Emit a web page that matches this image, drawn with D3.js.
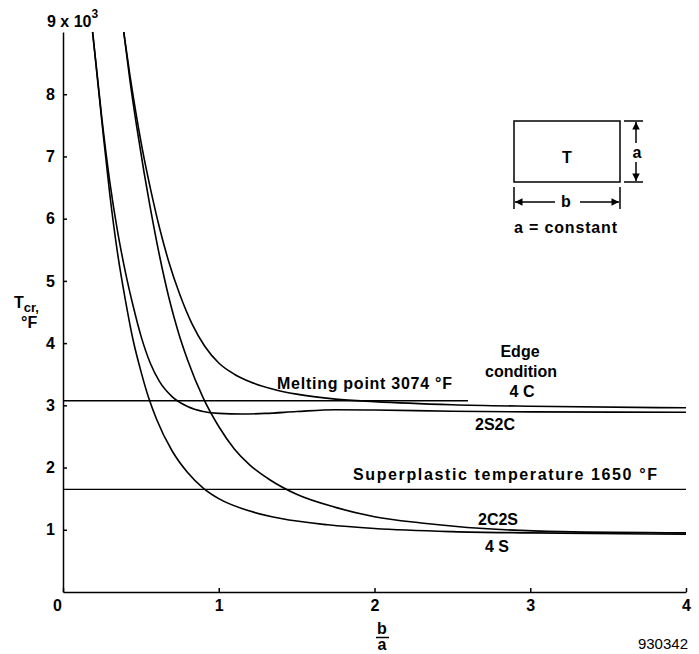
<!DOCTYPE html>
<html lang="en">
<head>
<meta charset="UTF-8">
<title>Critical temperature vs b/a</title>
<script src="https://d3js.org/d3.v7.min.js"></script>
<style>
  body { margin: 0; background: #fff; }
  svg { display: block; }
  text { font-family: 'Liberation Sans', Arial, sans-serif; font-weight: bold; fill: #000; }
  .axis path, .axis line { stroke: #000; stroke-width: 1.5; }
  .axis text { font-size: 16px; font-family: 'Liberation Sans', Arial, sans-serif; font-weight: bold; }
  .curve { fill: none; stroke: #000; stroke-width: 1.6; }
  .ref { stroke: #000; stroke-width: 1.3; }
  .inset { fill: none; stroke: #000; stroke-width: 1.5; }
</style>
</head>
<body>
<svg id="chart" width="699" height="654"></svg>
<script>
// values: b/a against T_cr (thousands of °F)
const xTicks = [0, 1, 2, 3, 4];
const yTicks = [1, 2, 3, 4, 5, 6, 7, 8];
const meltingPoint = 3.074;   // 3074 °F
const meltingEnd = 2.6;       // line stops under its label
const superplastic = 1.65;    // 1650 °F

const curve4S = [[0.19, 9.0], [0.25, 7.55], [0.30, 6.4], [0.35, 5.45], [0.40, 4.7], [0.45, 4.05],
  [0.50, 3.55], [0.55, 3.12], [0.60, 2.78], [0.70, 2.27], [0.80, 1.92], [0.90, 1.67], [1.00, 1.50],
  [1.20, 1.30], [1.40, 1.18], [1.70, 1.08], [2.00, 1.02], [2.50, 0.97], [3.00, 0.95], [4.00, 0.93]];
const curve2S2C = [[0.19, 9.0], [0.25, 7.6], [0.30, 6.6], [0.35, 5.8], [0.40, 5.15], [0.45, 4.6],
  [0.50, 4.12], [0.56, 3.68], [0.62, 3.38], [0.70, 3.14], [0.80, 2.98], [0.90, 2.9], [1.00, 2.87],
  [1.15, 2.86], [1.30, 2.87], [1.50, 2.9], [1.75, 2.93], [2.00, 2.925], [2.50, 2.905],
  [3.00, 2.895], [4.00, 2.89]];
const curve2C2S = [[0.39, 9.0], [0.43, 8.22], [0.475, 7.45], [0.52, 6.75], [0.56, 6.18], [0.62, 5.4],
  [0.68, 4.73], [0.74, 4.18], [0.80, 3.73], [0.90, 3.12], [1.00, 2.66], [1.10, 2.3], [1.20, 2.04],
  [1.33, 1.8], [1.50, 1.57], [1.75, 1.36], [2.00, 1.21], [2.30, 1.11], [2.70, 1.02], [3.20, 0.97],
  [4.00, 0.95]];
const curve4C = [[0.39, 9.0], [0.43, 8.3], [0.475, 7.6], [0.52, 6.98], [0.56, 6.5], [0.62, 5.85],
  [0.68, 5.3], [0.75, 4.78], [0.83, 4.3], [0.91, 3.95], [1.00, 3.68], [1.10, 3.5], [1.20, 3.38],
  [1.35, 3.26], [1.50, 3.18], [1.75, 3.1], [2.00, 3.06], [2.50, 3.01], [3.00, 2.985], [4.00, 2.96]];

const svg = d3.select("#chart");

const x = d3.scaleLinear().domain([0, 4]).range([63, 686]);
const y = d3.scaleLinear().domain([0, 9]).range([592, 32]);

// axes, ticks point inward
svg.append("g")
    .attr("class", "axis")
    .attr("transform", "translate(0,592)")
    .call(d3.axisBottom(x).tickValues(xTicks).tickFormat(d3.format("d"))
        .tickSizeInner(-4).tickSizeOuter(0).tickPadding(8))
    .call(g => g.selectAll(".tick text").filter(d => d === 0).attr("dx", -6));

svg.append("g")
    .attr("class", "axis")
    .attr("transform", "translate(63,0)")
    .call(d3.axisLeft(y).tickValues(yTicks).tickFormat(d3.format("d"))
        .tickSizeInner(-4).tickSizeOuter(0).tickPadding(8));

// top label of y axis
const topLabel = svg.append("text").attr("x", 47).attr("y", 27).style("font-size", "16px");
topLabel.append("tspan").text("9 x 10");
topLabel.append("tspan").attr("dy", -9).style("font-size", "12px").text("3");

// y axis title
const yTitle = svg.append("text").attr("x", 14).attr("y", 308).style("font-size", "16px");
yTitle.append("tspan").text("T");
yTitle.append("tspan").attr("dy", 4).style("font-size", "13px").text("cr,");
svg.append("text").attr("x", 21).attr("y", 328).style("font-size", "16px").text("°F");

// x axis title b/a
svg.append("text").attr("x", 382).attr("y", 634).attr("text-anchor", "middle")
    .style("font-size", "16px").text("b");
svg.append("line").attr("x1", 376).attr("x2", 389).attr("y1", 637.5).attr("y2", 637.5)
    .attr("stroke", "#000").attr("stroke-width", 1.5);
svg.append("text").attr("x", 382).attr("y", 650).attr("text-anchor", "middle")
    .style("font-size", "16px").text("a");

// reference temperatures
svg.append("line").attr("class", "ref")
    .attr("x1", x(0)).attr("x2", x(meltingEnd))
    .attr("y1", y(meltingPoint)).attr("y2", y(meltingPoint));
svg.append("line").attr("class", "ref")
    .attr("x1", x(0)).attr("x2", x(4))
    .attr("y1", y(superplastic)).attr("y2", y(superplastic));

svg.append("text").attr("x", 277).attr("y", 389).style("font-size", "16px")
    .attr("textLength", 175).attr("lengthAdjust", "spacing")
    .text("Melting point 3074 °F");
svg.append("text").attr("x", 353).attr("y", 480).style("font-size", "16px")
    .attr("textLength", 304).attr("lengthAdjust", "spacing")
    .text("Superplastic temperature 1650 °F");

// buckling curves
const line = d3.line().x(d => x(d[0])).y(d => y(d[1])).curve(d3.curveMonotoneX);
[curve4S, curve2S2C, curve2C2S, curve4C].forEach(c => {
  svg.append("path").attr("class", "curve").attr("d", line(c));
});

// curve labels
const labels = [
  { t: "Edge", x: 520, y: 357 },
  { t: "condition", x: 521, y: 377 },
  { t: "4 C", x: 522, y: 397 },
  { t: "2S2C", x: 495, y: 430 },
  { t: "2C2S", x: 498, y: 525 },
  { t: "4 S", x: 497, y: 552 }
];
labels.forEach(l => {
  svg.append("text").attr("x", l.x).attr("y", l.y).attr("text-anchor", "middle")
      .style("font-size", "16px").text(l.t);
});

// plate sketch
const defs = svg.append("defs");
defs.append("marker").attr("id", "arrow")
    .attr("viewBox", "0 0 10 10").attr("refX", 10).attr("refY", 5)
    .attr("markerWidth", 6).attr("markerHeight", 5).attr("orient", "auto")
    .append("path").attr("d", "M0,0 L10,5 L0,10 z").attr("fill", "#000");

svg.append("rect").attr("class", "inset")
    .attr("x", 514).attr("y", 121).attr("width", 106).attr("height", 61);
svg.append("text").attr("x", 567).attr("y", 163).attr("text-anchor", "middle")
    .style("font-size", "16px").text("T");

// a dimension
svg.append("line").attr("class", "inset").attr("x1", 624).attr("x2", 643).attr("y1", 121).attr("y2", 121).attr("stroke-width", 1.2);
svg.append("line").attr("class", "inset").attr("x1", 624).attr("x2", 643).attr("y1", 182).attr("y2", 182).attr("stroke-width", 1.2);
svg.append("line").attr("class", "inset").attr("x1", 636).attr("x2", 636).attr("y1", 143).attr("y2", 122)
    .attr("stroke-width", 1.2).attr("marker-end", "url(#arrow)");
svg.append("line").attr("class", "inset").attr("x1", 636).attr("x2", 636).attr("y1", 162).attr("y2", 181)
    .attr("stroke-width", 1.2).attr("marker-end", "url(#arrow)");
svg.append("text").attr("x", 637).attr("y", 158).attr("text-anchor", "middle")
    .style("font-size", "16px").text("a");

// b dimension
svg.append("line").attr("class", "inset").attr("x1", 514).attr("x2", 514).attr("y1", 187).attr("y2", 209).attr("stroke-width", 1.2);
svg.append("line").attr("class", "inset").attr("x1", 620).attr("x2", 620).attr("y1", 187).attr("y2", 209).attr("stroke-width", 1.2);
svg.append("line").attr("class", "inset").attr("x1", 555).attr("x2", 515).attr("y1", 202).attr("y2", 202)
    .attr("stroke-width", 1.2).attr("marker-end", "url(#arrow)");
svg.append("line").attr("class", "inset").attr("x1", 580).attr("x2", 619).attr("y1", 202).attr("y2", 202)
    .attr("stroke-width", 1.2).attr("marker-end", "url(#arrow)");
svg.append("text").attr("x", 566).attr("y", 207).attr("text-anchor", "middle")
    .style("font-size", "16px").text("b");

svg.append("text").attr("x", 514).attr("y", 233).style("font-size", "16px")
    .attr("textLength", 103).attr("lengthAdjust", "spacing")
    .text("a = constant");

// figure number
svg.append("text").attr("x", 688).attr("y", 649).attr("text-anchor", "end")
    .style("font-size", "15px").style("font-weight", "normal").text("930342");
</script>
</body>
</html>
